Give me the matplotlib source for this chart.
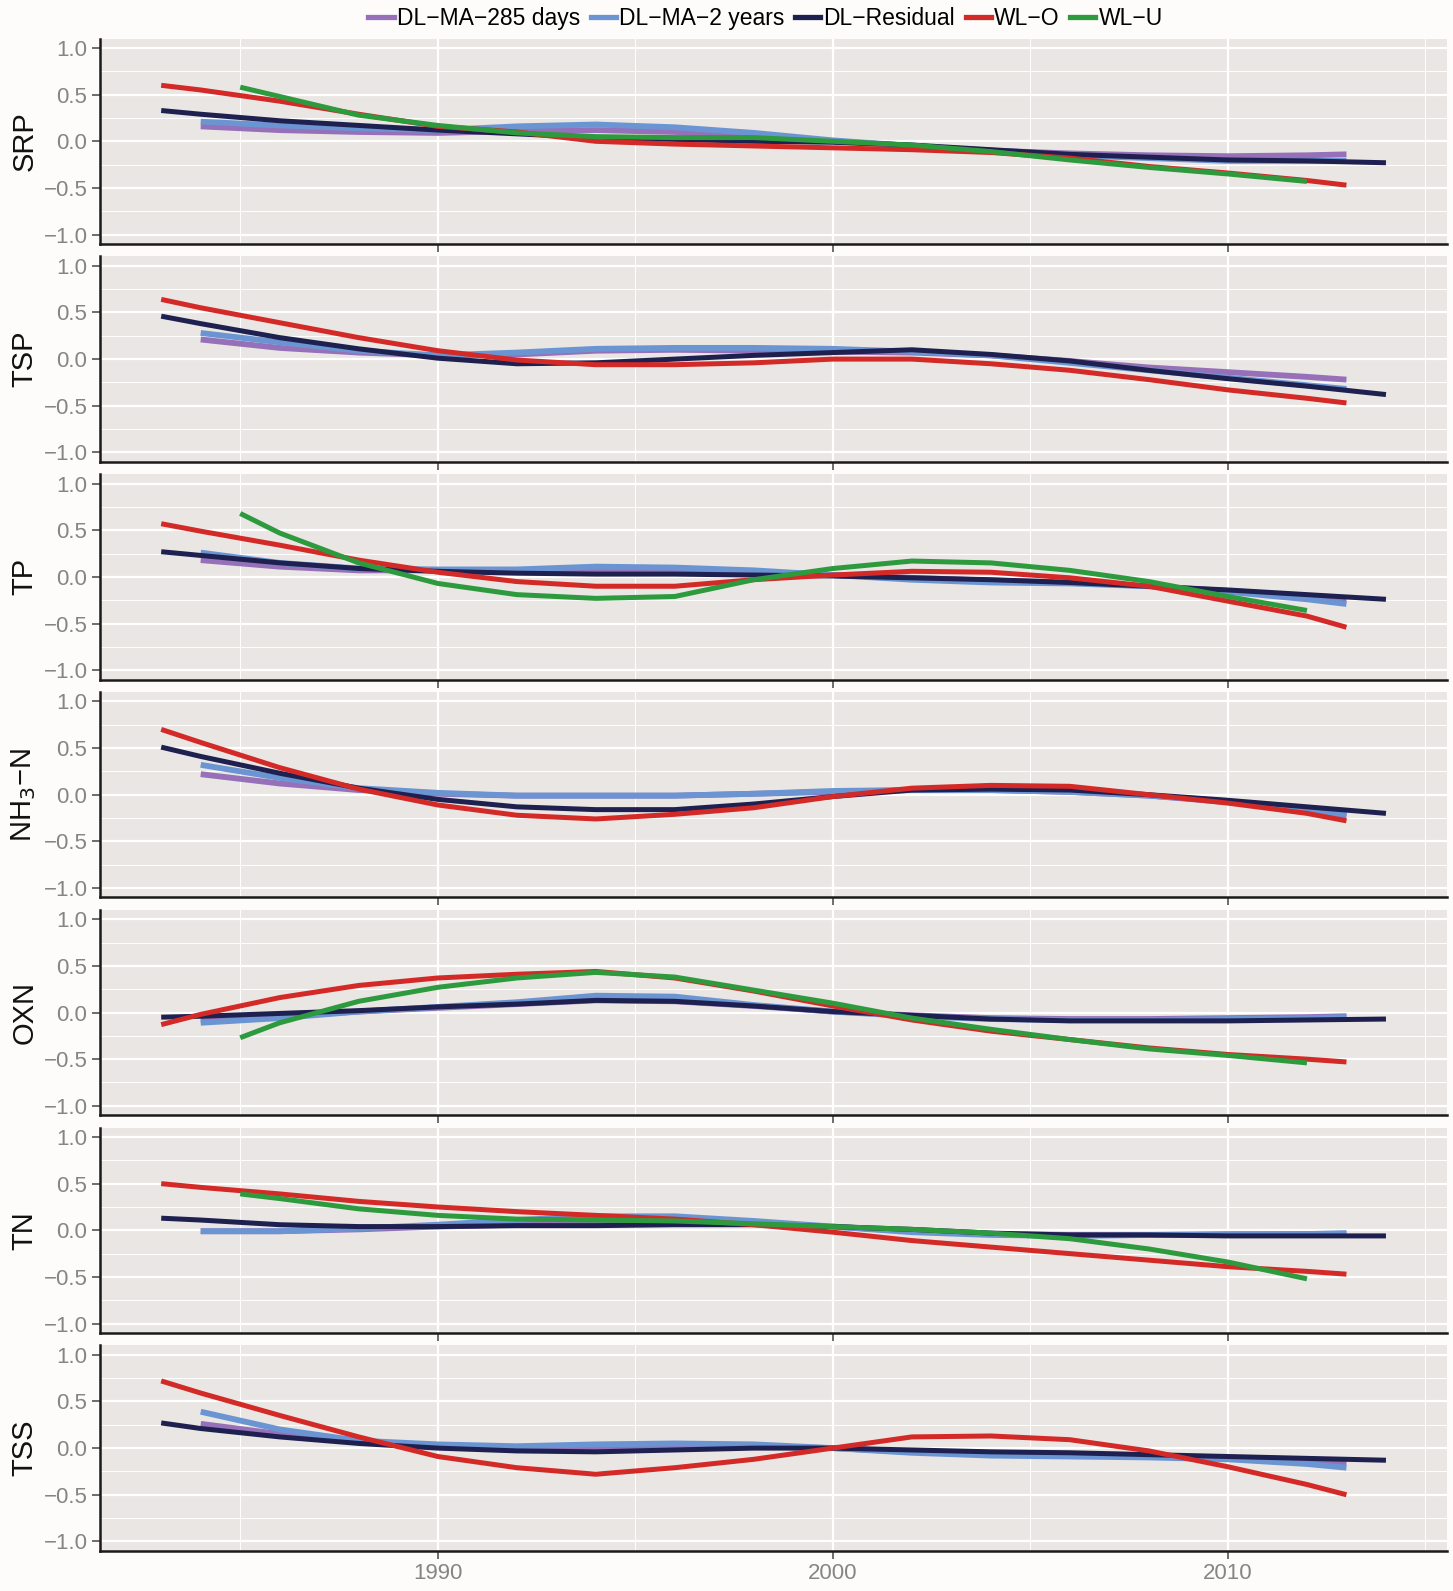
import numpy as np
import matplotlib
matplotlib.use("Agg")
import matplotlib.pyplot as plt
from matplotlib.lines import Line2D

plt.rcParams['font.family'] = ['Liberation Sans', 'DejaVu Sans']

# year grids for each kind of series (they start/end at different years)
yrs_ma = [1984, 1986, 1988, 1990, 1992, 1994, 1996, 1998, 2000, 2002, 2004, 2006, 2008, 2010, 2012, 2013]
yrs_res = [1983, 1984, 1986, 1988, 1990, 1992, 1994, 1996, 1998, 2000, 2002, 2004, 2006, 2008, 2010, 2012, 2014]
yrs_o = [1983, 1984, 1986, 1988, 1990, 1992, 1994, 1996, 1998, 2000, 2002, 2004, 2006, 2008, 2010, 2012, 2013]
yrs_u = [1985, 1986, 1988, 1990, 1992, 1994, 1996, 1998, 2000, 2002, 2004, 2006, 2008, 2010, 2012]

panels = ["SRP", "TSP", "TP", "NH$_3$\u2212N", "OXN", "TN", "TSS"]

labels = ["DL\u2212MA\u2212285 days", "DL\u2212MA\u22122 years", "DL\u2212Residual", "WL\u2212O", "WL\u2212U"]
colors = ["#9670B8", "#6B95D2", "#1E2050", "#D42A27", "#2E9A3E"]

# DL-MA-285 days
ma285 = [
    [0.16, 0.12, 0.10, 0.09, 0.11, 0.12, 0.10, 0.05, 0.00, -0.05, -0.10, -0.13, -0.15, -0.16, -0.15, -0.14],
    [0.21, 0.12, 0.07, 0.04, 0.05, 0.09, 0.10, 0.09, 0.08, 0.07, 0.04, -0.02, -0.09, -0.14, -0.19, -0.22],
    [0.18, 0.11, 0.07, 0.07, 0.06, 0.07, 0.07, 0.05, 0.02, -0.01, -0.04, -0.06, -0.10, -0.15, -0.21, -0.25],
    [0.22, 0.12, 0.05, 0.01, -0.01, -0.01, -0.01, 0.01, 0.03, 0.05, 0.05, 0.03, -0.01, -0.08, -0.17, -0.23],
    [-0.08, -0.04, 0.01, 0.05, 0.09, 0.13, 0.12, 0.07, 0.01, -0.03, -0.06, -0.07, -0.07, -0.06, -0.05, -0.04],
    [-0.01, -0.01, 0.01, 0.04, 0.06, 0.08, 0.08, 0.07, 0.04, -0.01, -0.04, -0.05, -0.05, -0.05, -0.04, -0.04],
    [0.26, 0.15, 0.07, 0.03, 0.01, 0.01, 0.02, 0.02, 0.00, -0.04, -0.05, -0.07, -0.09, -0.11, -0.13, -0.16],
]

# DL-MA-2 years
ma2y = [
    [0.21, 0.17, 0.14, 0.12, 0.16, 0.18, 0.15, 0.09, 0.01, -0.05, -0.11, -0.15, -0.18, -0.21, -0.21, -0.21],
    [0.28, 0.18, 0.09, 0.04, 0.07, 0.11, 0.12, 0.12, 0.11, 0.08, 0.04, -0.04, -0.12, -0.20, -0.28, -0.32],
    [0.26, 0.15, 0.09, 0.08, 0.08, 0.11, 0.10, 0.07, 0.02, -0.03, -0.06, -0.07, -0.10, -0.16, -0.24, -0.29],
    [0.32, 0.18, 0.07, 0.02, -0.01, -0.01, -0.01, 0.01, 0.04, 0.05, 0.05, 0.03, -0.01, -0.07, -0.16, -0.21],
    [-0.11, -0.06, 0.01, 0.06, 0.11, 0.18, 0.17, 0.08, 0.01, -0.04, -0.07, -0.08, -0.08, -0.07, -0.06, -0.05],
    [-0.01, -0.01, 0.02, 0.06, 0.11, 0.15, 0.15, 0.10, 0.04, -0.02, -0.05, -0.06, -0.05, -0.04, -0.04, -0.03],
    [0.39, 0.20, 0.08, 0.04, 0.02, 0.04, 0.05, 0.04, 0.00, -0.05, -0.08, -0.09, -0.10, -0.12, -0.17, -0.21],
]

# DL-Residual
resid = [
    [0.33, 0.29, 0.22, 0.17, 0.12, 0.08, 0.04, 0.02, 0.00, -0.01, -0.04, -0.09, -0.14, -0.17, -0.20, -0.21, -0.23],
    [0.46, 0.38, 0.23, 0.11, 0.01, -0.05, -0.04, 0.00, 0.04, 0.07, 0.10, 0.05, -0.02, -0.12, -0.21, -0.29, -0.38],
    [0.27, 0.23, 0.15, 0.09, 0.06, 0.04, 0.03, 0.03, 0.02, 0.01, -0.01, -0.03, -0.06, -0.10, -0.14, -0.19, -0.24],
    [0.51, 0.41, 0.23, 0.07, -0.05, -0.13, -0.16, -0.16, -0.10, -0.02, 0.05, 0.06, 0.05, 0.00, -0.06, -0.13, -0.20],
    [-0.05, -0.04, -0.01, 0.02, 0.06, 0.09, 0.13, 0.12, 0.07, 0.01, -0.03, -0.07, -0.09, -0.09, -0.09, -0.08, -0.07],
    [0.13, 0.11, 0.06, 0.04, 0.04, 0.05, 0.05, 0.06, 0.06, 0.04, 0.01, -0.03, -0.05, -0.05, -0.06, -0.06, -0.06],
    [0.27, 0.21, 0.12, 0.05, 0.00, -0.03, -0.04, -0.02, 0.00, 0.00, -0.02, -0.04, -0.05, -0.07, -0.09, -0.11, -0.13],
]

# WL-O
wlo = [
    [0.60, 0.55, 0.43, 0.29, 0.16, 0.10, 0.00, -0.03, -0.05, -0.07, -0.09, -0.12, -0.18, -0.27, -0.34, -0.42, -0.47],
    [0.64, 0.55, 0.39, 0.23, 0.09, -0.01, -0.06, -0.06, -0.04, 0.00, 0.00, -0.05, -0.12, -0.22, -0.33, -0.42, -0.47],
    [0.57, 0.49, 0.34, 0.18, 0.05, -0.05, -0.10, -0.10, -0.03, 0.02, 0.06, 0.05, -0.01, -0.10, -0.26, -0.42, -0.54],
    [0.70, 0.56, 0.29, 0.06, -0.11, -0.22, -0.26, -0.21, -0.14, -0.02, 0.07, 0.10, 0.09, 0.00, -0.09, -0.20, -0.28],
    [-0.13, -0.02, 0.16, 0.29, 0.37, 0.41, 0.44, 0.37, 0.23, 0.07, -0.08, -0.20, -0.29, -0.38, -0.45, -0.50, -0.53],
    [0.50, 0.46, 0.39, 0.31, 0.25, 0.20, 0.16, 0.12, 0.06, -0.02, -0.11, -0.18, -0.25, -0.32, -0.39, -0.44, -0.47],
    [0.72, 0.59, 0.35, 0.12, -0.09, -0.21, -0.28, -0.21, -0.12, 0.00, 0.12, 0.13, 0.09, -0.03, -0.20, -0.39, -0.50],
]

# WL-U (not measured for TSP, NH3-N, TSS)
wlu = [
    [0.58, 0.48, 0.28, 0.17, 0.09, 0.05, 0.04, 0.04, 0.00, -0.04, -0.11, -0.20, -0.28, -0.35, -0.43],
    None,
    [0.68, 0.47, 0.15, -0.07, -0.19, -0.23, -0.21, -0.03, 0.09, 0.17, 0.15, 0.07, -0.05, -0.21, -0.36],
    None,
    [-0.27, -0.11, 0.12, 0.27, 0.37, 0.43, 0.38, 0.24, 0.10, -0.06, -0.18, -0.29, -0.39, -0.46, -0.54],
    [0.39, 0.34, 0.23, 0.16, 0.12, 0.11, 0.10, 0.07, 0.04, 0.01, -0.03, -0.09, -0.20, -0.34, -0.52],
    None,
]

series = [(yrs_ma, ma285), (yrs_ma, ma2y), (yrs_res, resid), (yrs_o, wlo), (yrs_u, wlu)]
widths = [4.2, 4.2, 3.6, 3.6, 3.6]

fig, axes = plt.subplots(7, 1, figsize=(14.53, 15.91), dpi=100, sharex=True)
fig.patch.set_facecolor("#FDFCFA")
fig.subplots_adjust(left=0.0688, right=0.996, top=0.9757, bottom=0.0253, hspace=0.061)

for i, ax in enumerate(axes):
    ax.set_facecolor("#E9E6E3")
    for (yrs, vals), c, lw in zip(series, colors, widths):
        if vals[i] is None:
            continue
        ax.plot(yrs, vals[i], color=c, lw=lw, solid_capstyle="butt", solid_joinstyle="round", zorder=3)
    ax.set_xlim(1981.45, 2015.55)
    ax.set_ylim(-1.1, 1.1)
    ax.set_yticks([-1.0, -0.5, 0.0, 0.5, 1.0])
    ax.set_yticklabels(["\u22121.0", "\u22120.5", "0.0", "0.5", "1.0"])
    ax.set_yticks([-0.75, -0.25, 0.25, 0.75], minor=True)
    ax.set_xticks([1990, 2000, 2010])
    ax.set_xticks([1985, 1995, 2005, 2015], minor=True)
    ax.grid(which="major", color="white", lw=1.6, zorder=0)
    ax.grid(which="minor", color="white", lw=0.7, zorder=0)
    ax.set_axisbelow(True)
    for s in ["top", "right"]:
        ax.spines[s].set_visible(False)
    for s in ["left", "bottom"]:
        ax.spines[s].set_color("#1A1A1A")
        ax.spines[s].set_linewidth(1.8)
    ax.tick_params(axis="both", which="major", length=6, width=1.2, color="#555555",
                   labelsize=16, labelcolor="#858585", pad=3)
    ax.tick_params(axis="both", which="minor", length=0)
    ax.set_ylabel(panels[i], fontsize=21, color="#111111")
    ax.yaxis.set_label_coords(-0.0458, 0.5)
    if i < 6:
        ax.tick_params(axis="x", labelbottom=False)

handles = [Line2D([], [], color=c, lw=3.8) for c in colors]
fig.legend(handles, labels, loc="center", bbox_to_anchor=(0.527, 0.9885), ncol=5,
           frameon=False, fontsize=16.5, handlelength=1.1, handletextpad=0.15,
           columnspacing=0.45, borderaxespad=0)

fig.savefig("out.png", dpi=100, facecolor=fig.get_facecolor())
